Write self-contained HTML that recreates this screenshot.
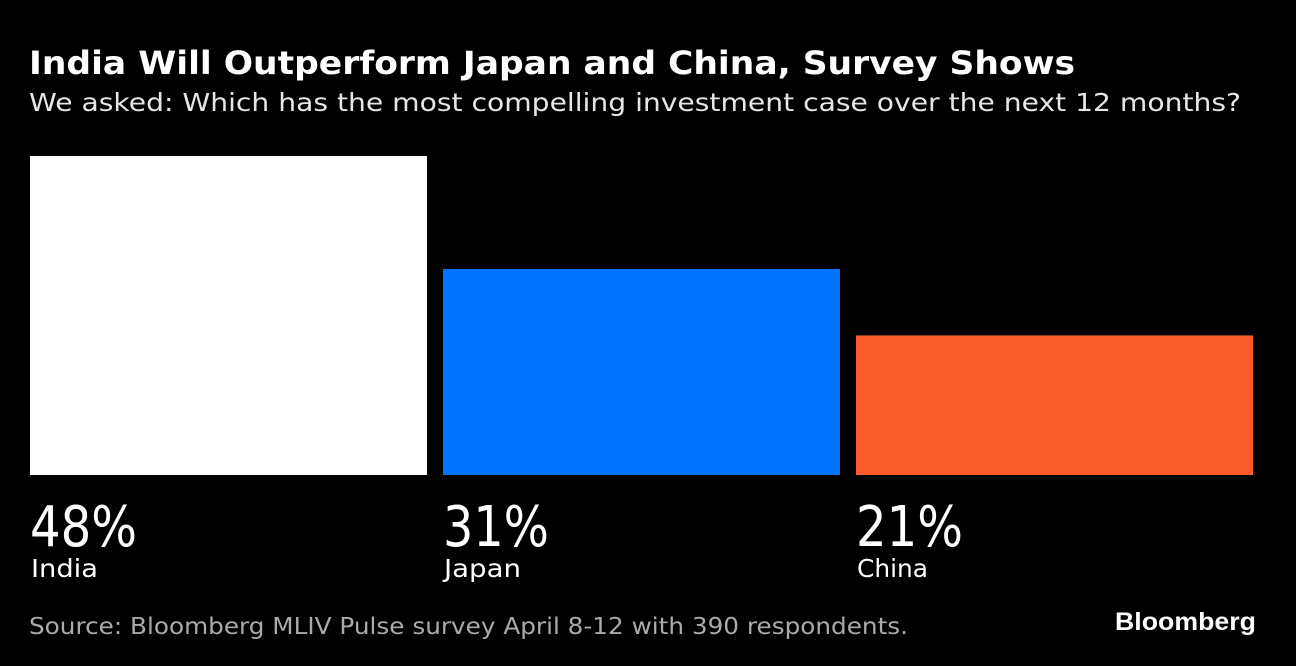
<!DOCTYPE html>
<html><head><meta charset="utf-8">
<style>
html,body{margin:0;padding:0;background:#000;}
svg{display:block;}
</style></head>
<body>
<svg id="chart" width="1296" height="666" viewBox="0 0 1296 666">
<rect x="0" y="0" width="1296" height="666" fill="#000"/>
<text x="29" y="74" font-family="DejaVu Sans, Liberation Sans, sans-serif" font-weight="bold" font-size="32" fill="#fff" textLength="1046" lengthAdjust="spacingAndGlyphs">India Will Outperform Japan and China, Survey Shows</text>
<text x="29" y="111" font-family="DejaVu Sans, Liberation Sans, sans-serif" font-size="25" fill="#e6e6e6" textLength="1212" lengthAdjust="spacingAndGlyphs">We asked: Which has the most compelling investment case over the next 12 months?</text>
<g id="bars"></g>
<text x="29" y="634" font-family="DejaVu Sans, Liberation Sans, sans-serif" font-size="23" fill="#aaa" textLength="879" lengthAdjust="spacingAndGlyphs">Source: Bloomberg MLIV Pulse survey April 8-12 with 390 respondents.</text>
<text x="1115" y="630" font-family="Liberation Sans, sans-serif" font-weight="bold" font-size="25" fill="#fff" textLength="141" lengthAdjust="spacingAndGlyphs">Bloomberg</text>
</svg>
<script>
const categories = ["India", "Japan", "China"];
const values = [48, 31, 21];
const valueLabels = ["48%", "31%", "21%"];
const colors = ["#ffffff", "#0073ff", "#fb5c2a"];
const labelWidths = [107, 106, 107];
const catWidths = [67, 77, 71];

const baseY = 475, pxPerUnit = 319 / 48;
const x0 = 30, barW = 397, step = 413;
function yScale(v){ return baseY - v * pxPerUnit; }
function xPos(i){ return x0 + i * step; }

const ns = "http://www.w3.org/2000/svg";
const g = document.getElementById("bars");
categories.forEach((c, i) => {
  const x = xPos(i);
  const r = document.createElementNS(ns, "rect");
  r.setAttribute("x", x);
  r.setAttribute("y", yScale(values[i]));
  r.setAttribute("width", barW);
  r.setAttribute("height", baseY - yScale(values[i]));
  r.setAttribute("fill", colors[i]);
  
  
  g.appendChild(r);

  const t = document.createElementNS(ns, "text");
  t.setAttribute("x", x);
  t.setAttribute("y", 546);
  t.setAttribute("font-family", "DejaVu Sans, Liberation Sans, sans-serif");
  t.setAttribute("font-size", "56");
  t.setAttribute("fill", "#fff");
  t.setAttribute("textLength", labelWidths[i]);
  t.setAttribute("lengthAdjust", "spacingAndGlyphs");
  t.textContent = valueLabels[i];
  
  
  g.appendChild(t);

  const l = document.createElementNS(ns, "text");
  l.setAttribute("x", x + 1);
  l.setAttribute("y", 577);
  l.setAttribute("font-family", "DejaVu Sans, Liberation Sans, sans-serif");
  l.setAttribute("font-size", "25");
  l.setAttribute("fill", "#fff");
  l.setAttribute("textLength", catWidths[i]);
  l.setAttribute("lengthAdjust", "spacingAndGlyphs");
  l.textContent = c;
  
  
  g.appendChild(l);
});
</script>
</body></html>
